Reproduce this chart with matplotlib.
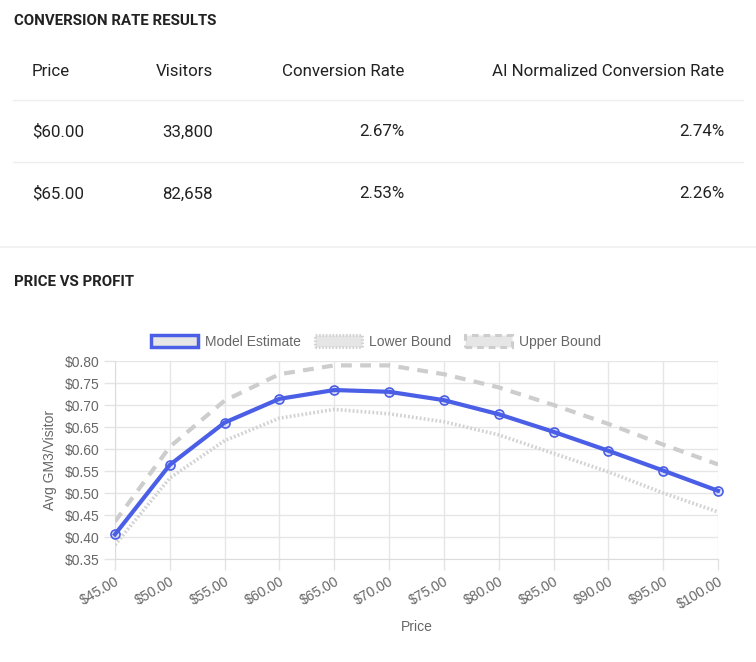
import numpy as np
import matplotlib
matplotlib.use("Agg")
from matplotlib import pyplot as plt
from matplotlib.patches import Patch
from matplotlib.lines import Line2D

# table data
table_cols = ["Price", "Visitors", "Conversion Rate", "AI Normalized Conversion Rate"]
table_prices = ["$60.00", "$65.00"]
table_visitors = ["33,800", "82,658"]
table_conv = ["2.67%", "2.53%"]
table_ai_conv = ["2.74%", "2.26%"]

# chart data
prices = [45, 50, 55, 60, 65, 70, 75, 80, 85, 90, 95, 100]
model_est = [0.406, 0.564, 0.660, 0.714, 0.734, 0.730, 0.711, 0.679, 0.639, 0.596, 0.551, 0.505]
lower_bound = [0.382, 0.534, 0.619, 0.670, 0.690, 0.680, 0.662, 0.632, 0.590, 0.548, 0.500, 0.457]
upper_bound = [0.435, 0.605, 0.710, 0.770, 0.790, 0.790, 0.770, 0.740, 0.700, 0.657, 0.610, 0.565]

W, H = 756, 662
fig = plt.figure(figsize=(W / 100, H / 100), dpi=100)
fig.patch.set_facecolor("white")

def fx(px):
    return px / W

def fy(py):
    return 1 - py / H

ui_font = "Roboto"
dark = "#222222"

# --- table section ---
fig.text(fx(14), fy(21), "CONVERSION RATE RESULTS", fontsize=10.8, fontweight="semibold",
         family=ui_font, color=dark, va="center", ha="left")

col_x = [32, 213, 404, 724]
col_ha = ["left", "right", "right", "right"]
for name, x, ha in zip(table_cols, col_x, col_ha):
    fig.text(fx(x), fy(71), name, fontsize=12.2, family=ui_font, color=dark, va="center", ha=ha)

row_y = [132, 194]
for i, y in enumerate(row_y):
    vals = [table_prices[i], table_visitors[i], table_conv[i], table_ai_conv[i]]
    for v, x, ha in zip(vals, col_x, col_ha):
        fig.text(fx(x), fy(y), v, fontsize=12.2, family=ui_font, color=dark, va="center", ha=ha)

for y in [100, 162]:
    fig.add_artist(Line2D([fx(13), fx(743)], [fy(y), fy(y)], color="#eeeeee", lw=1))
fig.add_artist(Line2D([0, 1], [fy(247), fy(247)], color="#f2f2f2", lw=1.5))

fig.text(fx(14), fy(282), "PRICE VS PROFIT", fontsize=10.8, fontweight="semibold",
         family=ui_font, color=dark, va="center", ha="left")

# --- chart ---
left, right, top, bottom = 115, 718, 361, 559
ax = fig.add_axes([fx(left), fy(bottom), fx(right - left), (bottom - top) / H])

blue = "#4a5ee6"
gray_lo = "#d2d2d2"
gray_up = "#cdcdcd"

ax.plot(prices, lower_bound, color=gray_lo, lw=2.6, ls=(0, (0.5, 0.6)), zorder=3,
        solid_capstyle="butt", dash_capstyle="butt")
ax.plot(prices, upper_bound, color=gray_up, lw=3, ls=(0, (2.6, 2.0)), zorder=3,
        dash_capstyle="butt")
ax.plot(prices, model_est, color=blue, lw=3, zorder=4, marker="o", ms=6.5,
        mfc=(0.29, 0.37, 0.9, 0.15), mec=blue, mew=1.2, clip_on=False)

ax.set_xlim(45, 100)
ax.set_ylim(0.35, 0.80)
ax.set_xticks(prices)
ax.set_xticklabels(["$%.2f" % p for p in prices])
yt = np.arange(0.35, 0.801, 0.05)
ax.set_yticks(yt)
ax.set_yticklabels(["$%.2f" % v for v in yt])

tick_font = "Liberation Sans"
for lab in ax.get_xticklabels():
    lab.set_rotation(30)
    lab.set_ha("right")
    lab.set_rotation_mode("anchor")
    lab.set_family(tick_font)
for lab in ax.get_yticklabels():
    lab.set_family(tick_font)

ax.tick_params(axis="both", colors="#e4e4e4", labelcolor="#666666", labelsize=10,
               length=8, width=1)
ax.tick_params(axis="x", pad=3)
ax.tick_params(axis="y", pad=3)
ax.grid(True, color="#e6e6e6", lw=1)
ax.set_axisbelow(True)
for s in ["top", "right"]:
    ax.spines[s].set_visible(False)
for s in ["left", "bottom"]:
    ax.spines[s].set_color("#dcdcdc")

ax.set_ylabel("Avg GM3/Visitor", fontsize=10, color="#666666", family=tick_font, labelpad=6)
ax.set_xlabel("Price", fontsize=10, color="#666666", family=tick_font, labelpad=6)

handles = [
    Patch(facecolor="#e6e6e6", edgecolor=blue, lw=2.5, label="Model Estimate"),
    Patch(facecolor="#e6e6e6", edgecolor=gray_lo, lw=2.2, ls=(0, (0.5, 0.6)), label="Lower Bound"),
    Patch(facecolor="#e6e6e6", edgecolor=gray_up, lw=2.2, ls=(0, (2.2, 1.6)), label="Upper Bound"),
]
leg = fig.legend(handles=handles, loc="center", bbox_to_anchor=(fx(376), fy(342)), ncol=3,
                 frameon=False, fontsize=10, handlelength=3.4, handleheight=1.0,
                 handletextpad=0.5, columnspacing=1.0, prop={"family": tick_font, "size": 10})
for t in leg.get_texts():
    t.set_color("#666666")

fig.savefig("out.png", dpi=100, facecolor="white")
